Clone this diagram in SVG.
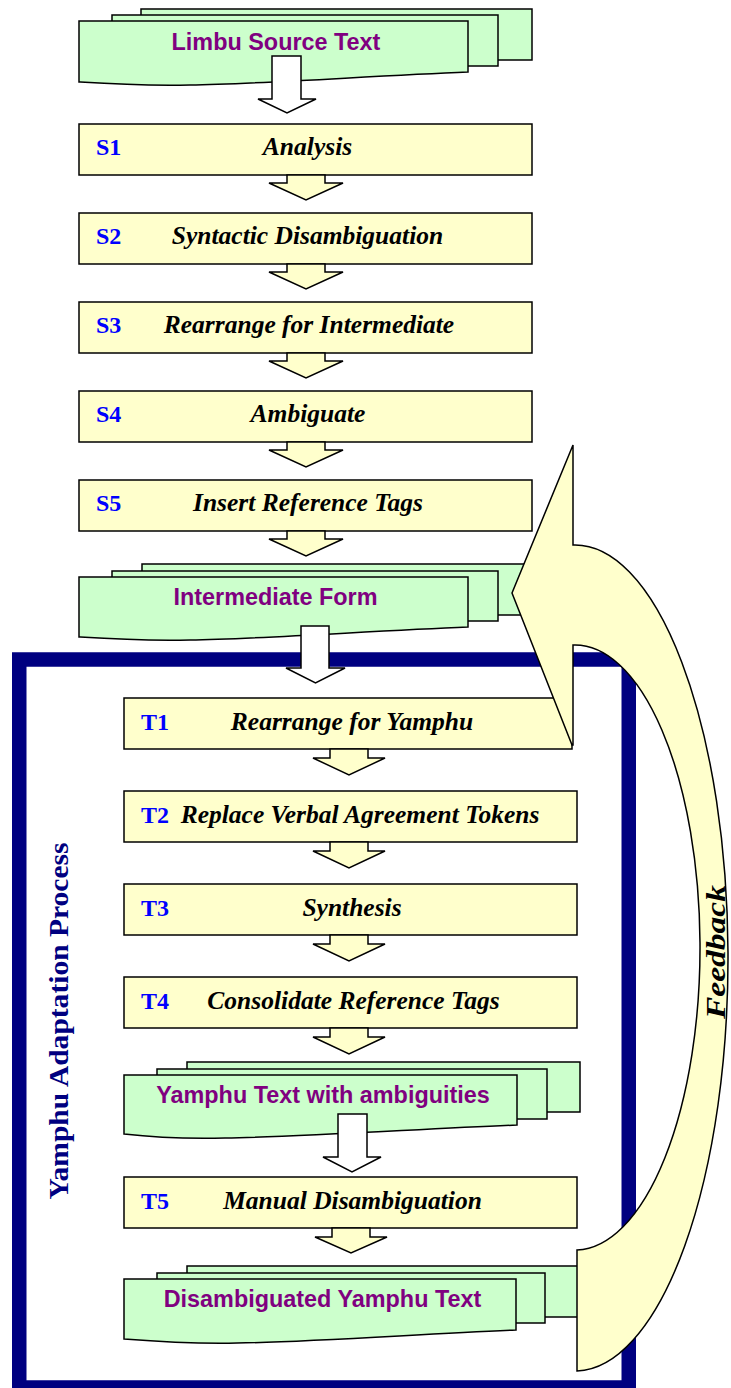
<svg xmlns="http://www.w3.org/2000/svg" width="731" height="1388" viewBox="0 0 731 1388">
<style>
.box{fill:#FFFFCC;stroke:#000;stroke-width:1.5}
.doc{fill:#CCFFCC;stroke:#000;stroke-width:1.5}
.warr{fill:#FFFFFF;stroke:#000;stroke-width:1.5;stroke-linejoin:miter}
.yarr{fill:#FFFFCC;stroke:#000;stroke-width:1.5}
.lab{font-family:"Liberation Serif","Times New Roman",serif;font-weight:bold;font-size:24px;fill:#0000FF}
.step{font-family:"Liberation Serif","Times New Roman",serif;font-weight:bold;font-style:italic;font-size:25.5px;fill:#000;text-anchor:middle}
.doct{font-family:"Liberation Sans",Arial,sans-serif;font-weight:bold;font-size:23.4px;fill:#800080;text-anchor:middle}
</style>
<rect id="frame" x="19.25" y="659.5" width="609.5" height="728" fill="none" stroke="#000080" stroke-width="14.5"/>
<text transform="translate(68,1021) rotate(-90)" font-family="Liberation Serif, Times New Roman, serif" font-weight="bold" font-size="28" fill="#000080" text-anchor="middle" textLength="357" lengthAdjust="spacingAndGlyphs">Yamphu Adaptation Process</text>
<g id="nodes">
<g id="limbu">
<rect class="doc" x="141" y="9" width="391" height="51"/>
<rect class="doc" x="112" y="15" width="386" height="51"/>
<path class="doc" d="M79,21 H468 V72 C370,76 260,84 190,85 C140,86 110,84 79,82 Z"/>
<text class="doct" x="276" y="50">Limbu Source Text</text>
</g>
<g id="s1"><rect class="box" x="79" y="124" width="453" height="51"/><text class="lab" x="96" y="155">S1</text><text class="step" x="307.5" y="155">Analysis</text></g>
<g id="s2"><rect class="box" x="79" y="213" width="453" height="51"/><text class="lab" x="96" y="244">S2</text><text class="step" x="307.5" y="244">Syntactic Disambiguation</text></g>
<g id="s3"><rect class="box" x="79" y="302" width="453" height="51"/><text class="lab" x="96" y="333">S3</text><text class="step" x="309" y="333">Rearrange for Intermediate</text></g>
<g id="s4"><rect class="box" x="79" y="391" width="453" height="51"/><text class="lab" x="96" y="422">S4</text><text class="step" x="308" y="422">Ambiguate</text></g>
<g id="s5"><rect class="box" x="79" y="480" width="453" height="51"/><text class="lab" x="96" y="511">S5</text><text class="step" x="308" y="511">Insert Reference Tags</text></g>
<g id="intermediate">
<rect class="doc" x="142" y="564" width="390" height="51"/>
<rect class="doc" x="112" y="571" width="386" height="50"/>
<path class="doc" d="M79,577 H468 V627 C370,631 260,639 190,640 C140,641 110,639 79,637 Z"/>
<text class="doct" x="275.5" y="605">Intermediate Form</text>
</g>
<g id="t1"><rect class="box" x="124" y="698" width="448" height="51"/><text class="lab" x="141" y="730">T1</text><text class="step" x="352" y="730">Rearrange for Yamphu</text></g>
<g id="t2"><rect class="box" x="124" y="791" width="453" height="51"/><text class="lab" x="141" y="823">T2</text><text class="step" x="360" y="823">Replace Verbal Agreement Tokens</text></g>
<g id="t3"><rect class="box" x="124" y="884" width="453" height="51"/><text class="lab" x="141" y="916">T3</text><text class="step" x="352" y="916">Synthesis</text></g>
<g id="t4"><rect class="box" x="124" y="977" width="453" height="51"/><text class="lab" x="141" y="1009">T4</text><text class="step" x="353.5" y="1009">Consolidate Reference Tags</text></g>
<g id="yamphu-ambig">
<rect class="doc" x="187" y="1062" width="393" height="50"/>
<rect class="doc" x="157" y="1069" width="390" height="50"/>
<path class="doc" d="M124,1075 H517 V1125 C420,1129 300,1137 225,1138 C180,1139 150,1137 124,1134 Z"/>
<text class="doct" x="323" y="1103">Yamphu Text with ambiguities</text>
</g>
<g id="t5"><rect class="box" x="124" y="1177" width="453" height="51"/><text class="lab" x="141" y="1209">T5</text><text class="step" x="352.5" y="1209">Manual Disambiguation</text></g>
<g id="disambiguated">
<rect class="doc" x="187" y="1266" width="391" height="51"/>
<rect class="doc" x="157" y="1273" width="388" height="50"/>
<path class="doc" d="M124,1279 H516 V1330 C420,1334 310,1342 237,1343 C190,1344 150,1341 124,1339 Z"/>
<text class="doct" x="322.5" y="1307">Disambiguated Yamphu Text</text>
</g>
</g>
<g id="connectors">
<path class="warr" d="M272,56 V99 H258 L287,113 L316,99 H301 V56 Z"/>
<path class="yarr" d="M287,175 V183 H269 L306,200 L343,183 H325 V175 Z"/>
<path class="yarr" d="M287,264 V272 H269 L306,289 L343,272 H325 V264 Z"/>
<path class="yarr" d="M287,353 V361 H269 L306,378 L343,361 H325 V353 Z"/>
<path class="yarr" d="M287,442 V450 H269 L306,467 L343,450 H325 V442 Z"/>
<path class="yarr" d="M287,531 V539 H269 L306,556 L343,539 H325 V531 Z"/>
<path class="warr" d="M301,626 V668 H286 L315.5,683 L345,668 H329 V626 Z"/>
<path class="yarr" d="M330,749 V758 H313 L349,775 L385,758 H368 V749 Z"/>
<path class="yarr" d="M330,842 V851 H313 L349,868 L385,851 H368 V842 Z"/>
<path class="yarr" d="M330,935 V944 H313 L349,961 L385,944 H368 V935 Z"/>
<path class="yarr" d="M330,1028 V1037 H313 L349,1054 L385,1037 H368 V1028 Z"/>
<path class="warr" d="M338,1114 V1157 H323 L352,1172 L381,1157 H367 V1114 Z"/>
<path class="yarr" d="M332,1228 V1237 H315 L351,1253 L387,1237 H370 V1228 Z"/>
<g id="feedback">
<path class="yarr" d="M573,445 L512,593 L572,745 L573,745 L573,645 A125,302.5 0 0 1 577,1250 L577,1371 A153,413 0 0 0 573,545 Z"/>
<text transform="translate(725,952) rotate(-90)" font-family="Liberation Serif, Times New Roman, serif" font-weight="bold" font-style="italic" font-size="28" fill="#000" text-anchor="middle" textLength="134" lengthAdjust="spacingAndGlyphs">Feedback</text>
</g>
</g>
</svg>
